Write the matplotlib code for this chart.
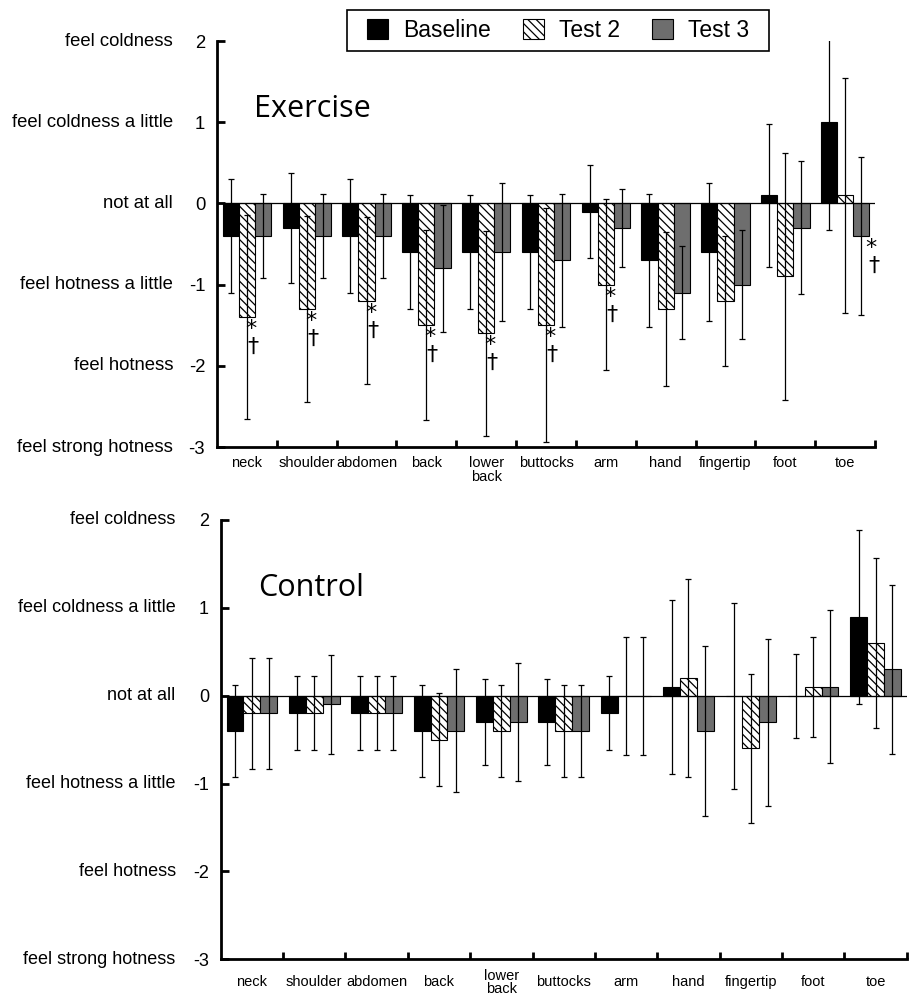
import matplotlib
matplotlib.use("Agg")
import matplotlib.pyplot as plt
import matplotlib.patches as mpatches
from matplotlib.transforms import blended_transform_factory
import numpy as np

categories = ['neck', 'shoulder', 'abdomen', 'back', 'lower\nback', 'buttocks',
              'arm', 'hand', 'fingertip', 'foot', 'toe']
series_names = ['Baseline', 'Test 2', 'Test 3']
ytick_values = [2, 1, 0, -1, -2, -3]
ytick_words = ['feel coldness', 'feel coldness a little', 'not at all',
               'feel hotness a little', 'feel hotness', 'feel strong hotness']

# Exercise group (mean, SD)
ex_base = [-0.4, -0.3, -0.4, -0.6, -0.6, -0.6, -0.1, -0.7, -0.6, 0.1, 1.0]
ex_base_sd = [0.70, 0.68, 0.70, 0.70, 0.70, 0.70, 0.57, 0.82, 0.85, 0.88, 1.33]
ex_t2 = [-1.4, -1.3, -1.2, -1.5, -1.6, -1.5, -1.0, -1.3, -1.2, -0.9, 0.1]
ex_t2_sd = [1.26, 1.15, 1.03, 1.17, 1.26, 1.44, 1.05, 0.95, 0.80, 1.52, 1.45]
ex_t3 = [-0.4, -0.4, -0.4, -0.8, -0.6, -0.7, -0.3, -1.1, -1.0, -0.3, -0.4]
ex_t3_sd = [0.52, 0.52, 0.52, 0.78, 0.85, 0.82, 0.48, 0.57, 0.67, 0.82, 0.97]
ex_sig_t2 = [0, 1, 2, 3, 4, 5, 6]
ex_sig_t3 = [10]

# Control group (mean, SD)
ct_base = [-0.4, -0.2, -0.2, -0.4, -0.3, -0.3, -0.2, 0.1, 0.0, 0.0, 0.9]
ct_base_sd = [0.52, 0.42, 0.42, 0.52, 0.49, 0.49, 0.42, 0.99, 1.06, 0.48, 0.99]
ct_t2 = [-0.2, -0.2, -0.2, -0.5, -0.4, -0.4, 0.0, 0.2, -0.6, 0.1, 0.6]
ct_t2_sd = [0.63, 0.42, 0.42, 0.53, 0.52, 0.52, 0.67, 1.13, 0.85, 0.57, 0.97]
ct_t3 = [-0.2, -0.1, -0.2, -0.4, -0.3, -0.4, 0.0, -0.4, -0.3, 0.1, 0.3]
ct_t3_sd = [0.63, 0.56, 0.42, 0.70, 0.67, 0.52, 0.67, 0.97, 0.95, 0.87, 0.96]

plt.rcParams['font.family'] = ['Liberation Sans', 'DejaVu Sans']
plt.rcParams['hatch.linewidth'] = 0.9
plt.rcParams['hatch.color'] = 'black'

fig = plt.figure(figsize=(9.11, 9.98), dpi=100)
ax_top = fig.add_axes([0.2382, 0.5521, 0.7223, 0.4068])
ax_bot = fig.add_axes([0.2423, 0.0388, 0.7530, 0.4402])

W = 0.27
styles = [dict(color='black', edgecolor='black'),
          dict(color='white', edgecolor='black', hatch='\\\\\\\\'),
          dict(color='#6e6e6e', edgecolor='black')]


def draw_panel(ax, means, sds, title, title_xy, word_off, lab_va, lab_off, lab_ls, lab_size, word_size):
    x = np.arange(len(categories))
    for k, (m, s) in enumerate(zip(means, sds)):
        xs = x + (k - 1) * W
        ax.bar(xs, m, width=W, linewidth=0.8, zorder=2, label=series_names[k], **styles[k])
        ax.errorbar(xs, m, yerr=s, fmt='none', ecolor='black', elinewidth=0.9,
                    capsize=2.4, capthick=0.9, zorder=3)
    ax.axhline(0, color='black', linewidth=0.9, zorder=4)
    ax.set_xlim(-0.5, len(categories) - 0.5)
    ax.set_ylim(-3, 2)
    for sp in ['top', 'right']:
        ax.spines[sp].set_visible(False)
    for sp in ['left', 'bottom']:
        ax.spines[sp].set_linewidth(2)
    ax.set_yticks(ytick_values)
    ax.set_yticklabels([str(v) for v in ytick_values], fontsize=word_size)
    ax.tick_params(axis='y', direction='in', length=6, width=2, pad=8.5)
    ax.set_xticks(np.arange(len(categories)) + 0.5)
    ax.set_xticklabels([])
    ax.tick_params(axis='x', direction='in', length=5, width=2)
    trans = blended_transform_factory(ax.transData, ax.transAxes)
    for i, c in enumerate(categories):
        ax.annotate(c, xy=(i, 0), xycoords=trans, xytext=(0, lab_off),
                    textcoords='offset pixels', ha='center', va=lab_va,
                    fontsize=lab_size, linespacing=lab_ls, annotation_clip=False)
    ytrans = blended_transform_factory(ax.transAxes, ax.transData)
    for v, w in zip(ytick_values, ytick_words):
        ax.annotate(w, xy=(0, v), xycoords=ytrans, xytext=(word_off, 0),
                    textcoords='offset pixels', ha='right', va='center',
                    fontsize=word_size, annotation_clip=False)
    ax.text(title_xy[0], title_xy[1], title, transform=ax.transAxes,
            fontsize=22, family='Open Sans', ha='left', va='center')


draw_panel(ax_top, [ex_base, ex_t2, ex_t3], [ex_base_sd, ex_t2_sd, ex_t3_sd],
           'Exercise', (0.0562, 0.832), -44, 'top', -9, 1.0, 10.5, 13.3)
draw_panel(ax_bot, [ct_base, ct_t2, ct_t3], [ct_base_sd, ct_t2_sd, ct_t3_sd],
           'Control', (0.0548, 0.845), -45, 'center', -23, 0.9, 10.5, 13)

# significance marks
def mark(ax, xpos, yend, dx1, dx2):
    ax.annotate('*', xy=(xpos, yend), xytext=(dx1, -12), textcoords='offset pixels',
                ha='center', va='center', fontsize=16, family='DejaVu Sans',
                annotation_clip=False, zorder=5)
    ax.annotate('\u2020', xy=(xpos, yend), xytext=(dx2, -30), textcoords='offset pixels',
                ha='center', va='center', fontsize=16, family='DejaVu Sans',
                annotation_clip=False, zorder=5)

for i in ex_sig_t2:
    mark(ax_top, i, ex_t2[i], 4, 6)
for i in ex_sig_t3:
    mark(ax_top, i + W, ex_t3[i], 10, 13)

# legend with a square frame
handles = [mpatches.Patch(facecolor='black', edgecolor='black', linewidth=0.8),
           mpatches.Patch(facecolor='white', edgecolor='black', hatch='\\\\\\\\', linewidth=0.8),
           mpatches.Patch(facecolor='#6e6e6e', edgecolor='black', linewidth=0.8)]
fig.legend(handles, series_names, loc='center', bbox_to_anchor=(0.6125, 0.9694),
           ncol=3, frameon=False, fontsize=16.5, handlelength=0.92, handleheight=0.92,
           handletextpad=0.66, columnspacing=1.4, borderpad=0.2)
fig.patches.append(mpatches.Rectangle((0.3809, 0.9489), 0.4632, 0.0411,
                                      transform=fig.transFigure, fill=False,
                                      edgecolor='black', linewidth=1.2))

fig.savefig('out.png', dpi=100)
